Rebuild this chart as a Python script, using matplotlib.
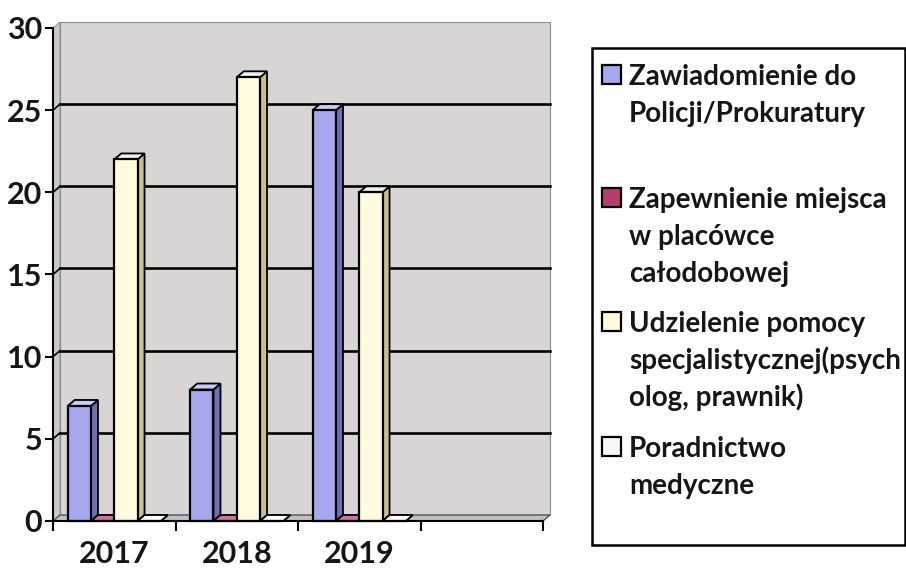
"""Recreate the 3D-style clustered bar chart (2017-2019) with a side legend."""

import matplotlib
matplotlib.use("Agg")  # headless
import matplotlib.pyplot as plt
from matplotlib.patches import Polygon, Rectangle

YEARS = ["2017", "2018", "2019", ""]
SERIES = [
    "Zawiadomienie do\nPolicji/Prokuratury",
    "Zapewnienie miejsca\nw placówce\ncałodobowej",
    "Udzielenie pomocy\nspecjalistycznej(psych\nolog, prawnik)",
    "Poradnictwo\nmedyczne",
]
VALUES = [
    [7, 8, 25],   # Zawiadomienie
    [0, 0, 0],    # Zapewnienie miejsca
    [22, 27, 20], # Udzielenie pomocy
    [0, 0, 0],    # Poradnictwo
]
Y_TICKS = [0, 5, 10, 15, 20, 25, 30]

FACE = ["#a7a7ee", "#b3406c", "#fffbdc", "#f4f9f9"]
SIDE = ["#6f6fb5", "#7a2448", "#c9c08e", "#c2caca"]
TOP = ["#cacaf6", "#d4709c", "#edf1ee", "#ffffff"]
WALL = "#d9d5d5"
LEFT_WALL = "#cbc7c7"
FLOOR = "#c4c0c0"
TEXT = "#161616"
FONT = "Lato"

W, H = 906, 571
# pixel mapping: x=0 -> 53px, x=4 -> 543px ; y=0 -> 521px, y=30 -> 28px
PX_X = (543 - 53) / 4
PX_Y = (521 - 28) / 30
XLIM = (-0.12, 4.12)
YLIM = (-1.2, 30.8)
DX = 7 / PX_X
DY = 6 / PX_Y
SLOT = 0.19
OFFSET = 0.12

fig = plt.figure(figsize=(W / 100, H / 100), dpi=100, facecolor="white")
left_px = 53 + XLIM[0] * PX_X
right_px = 53 + XLIM[1] * PX_X
bot_px = 521 - YLIM[0] * PX_Y
top_px = 521 - YLIM[1] * PX_Y
ax = fig.add_axes([left_px / W, 1 - bot_px / H,
                   (right_px - left_px) / W, (bot_px - top_px) / H])
ax.set_xlim(*XLIM)
ax.set_ylim(*YLIM)
ax.patch.set_visible(False)
n_cat = len(YEARS)

# walls and floor
ax.add_patch(Rectangle((DX, DY), n_cat, Y_TICKS[-1], facecolor=WALL,
                       edgecolor="#8a8a8a", linewidth=0.8, zorder=0))
ax.add_patch(Polygon([(0, 0), (DX, DY), (DX, Y_TICKS[-1] + DY), (0, Y_TICKS[-1])],
                     closed=True, facecolor=LEFT_WALL, edgecolor="#8a8a8a",
                     linewidth=0.6, zorder=0))
ax.add_patch(Polygon([(0, 0), (n_cat, 0), (n_cat + DX, DY), (DX, DY)],
                     closed=True, facecolor=FLOOR, edgecolor="#555555",
                     linewidth=1.0, zorder=0.5))
for v in Y_TICKS[1:-1]:
    ax.plot([DX, n_cat + DX], [v + DY, v + DY], color="black", lw=1.9, zorder=1)
    ax.plot([0, DX], [v, v + DY], color="black", lw=1.2, zorder=1)

# bars
for k, vals in enumerate(VALUES):
    xs = [i + OFFSET + k * SLOT for i in range(len(vals))]
    bars = ax.bar(xs, vals, width=SLOT, align="edge", color=FACE[k],
                  edgecolor="black", linewidth=1.6, zorder=4 + 2 * k)
    for b in bars:
        x0, w, h = b.get_x(), b.get_width(), b.get_height()
        side = [(x0 + w, 0), (x0 + w + DX, DY), (x0 + w + DX, h + DY), (x0 + w, h)]
        top = [(x0, h), (x0 + w, h), (x0 + w + DX, h + DY), (x0 + DX, h + DY)]
        ax.add_patch(Polygon(side, closed=True, facecolor=SIDE[k],
                             edgecolor="black", linewidth=1.3, zorder=3 + 2 * k))
        ax.add_patch(Polygon(top, closed=True, facecolor=TOP[k],
                             edgecolor="black", linewidth=1.3, zorder=3 + 2 * k))

# axes lines and ticks
for s in ("top", "right"):
    ax.spines[s].set_visible(False)
ax.spines["left"].set_position(("data", 0))
ax.spines["left"].set_bounds(Y_TICKS[0], Y_TICKS[-1])
ax.spines["bottom"].set_position(("data", 0))
ax.spines["bottom"].set_bounds(0, n_cat)
for s in ("left", "bottom"):
    ax.spines[s].set_linewidth(1.5)
    ax.spines[s].set_zorder(20)
ax.set_yticks(Y_TICKS)
ax.set_yticklabels([str(t) for t in Y_TICKS], fontsize=22, fontweight="bold",
                   family=FONT, color=TEXT)
ax.tick_params(axis="y", direction="out", length=5.8, width=1.5, pad=2)
ax.set_xticks(range(n_cat + 1))
ax.set_xticklabels([])
ax.tick_params(axis="x", which="major", direction="out", length=7.5, width=1.5)
ax.set_xticks([i + 0.5 for i in range(n_cat)], minor=True)
ax.set_xticklabels(YEARS, minor=True, fontsize=22, fontweight="bold",
                   family=FONT, color=TEXT)
ax.tick_params(axis="x", which="minor", length=0, pad=14)

# legend box drawn by hand to keep the original spacing
fig.add_artist(Rectangle((592 / W, 1 - 545 / H), (905 - 592) / W, (545 - 48) / H,
                         transform=fig.transFigure, facecolor="white",
                         edgecolor="black", linewidth=1.8))
LEGEND_BASELINES = [85, 208, 332, 457]
LINE_STEP = 37
for k, label in enumerate(SERIES):
    base = LEGEND_BASELINES[k]
    fig.add_artist(Rectangle((602 / W, 1 - (base - 1) / H), 19 / W, 19 / H,
                             transform=fig.transFigure, facecolor=FACE[k],
                             edgecolor="black", linewidth=1.6))
    for j, line in enumerate(label.split("\n")):
        fig.text(629 / W, 1 - (base + j * LINE_STEP) / H, line, fontsize=20,
                 fontweight="bold", family=FONT, color=TEXT,
                 ha="left", va="baseline")

fig.savefig("out.png", dpi=100, facecolor="white")
